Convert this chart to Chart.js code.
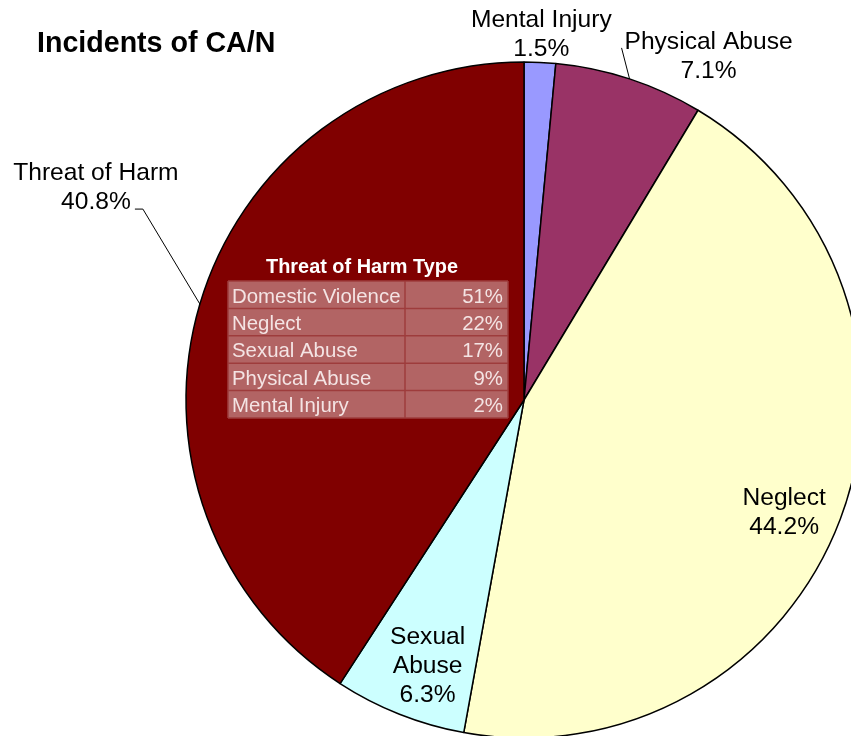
<!DOCTYPE html>
<html>
<head>
<meta charset="utf-8">
<script src="https://cdn.jsdelivr.net/npm/chart.js@4/dist/chart.umd.min.js"></script>
<style>
  html, body { margin: 0; padding: 0; background: #fff; overflow: hidden; }
  #wrap { position: relative; width: 851px; height: 736px; }
  canvas { display: block; }
</style>
</head>
<body>
<div id="wrap"><canvas id="graf_can" width="851" height="736"></canvas></div>
<script>
// slices, clockwise from 12 o'clock
var categories = ['Mental Injury', 'Physical Abuse', 'Neglect', 'Sexual Abuse', 'Threat of Harm'];
var shares = [1.5, 7.1, 44.2, 6.3, 40.8];
var sliceColors = ['#9999FF', '#993366', '#FFFFCC', '#CCFFFF', '#800000'];

// inset table for the Threat of Harm slice
var harmTypes = ['Domestic Violence', 'Neglect', 'Sexual Abuse', 'Physical Abuse', 'Mental Injury'];
var harmShares = [51, 22, 17, 9, 2];

// where each slice label goes: anchor on radius k*R at mid angle, then shifted
var placement = [
    { k: 1.088, dx: 0, dy: 2, lines: ['Mental Injury'] },
    { k: 1, dx: 79, dy: -22, lines: ['Physical Abuse'], leader: [[-8, -31]] },
    { k: 0.835, dx: -4, dy: 13, lines: ['Neglect'] },
    { k: 0.83, dx: 7, dy: 5, lines: ['Sexual', 'Abuse'] },
    { k: 1, dx: -104, dy: -116, lines: ['Threat of Harm'], leader: [[-57, -95], [-65, -95]] }
];

var FONT = '"Liberation Sans", Arial, sans-serif';

var labelsPlugin = {
    id: 'labelsPlugin',
    afterDatasetsDraw: function (chart) {
        var c = chart.ctx;
        var arcs = chart.getDatasetMeta(0).data;
        var cx = arcs[0].x, cy = arcs[0].y, R = arcs[0].outerRadius;

        c.save();
        // title
        c.fillStyle = '#000';
        c.font = 'bold 28.6px ' + FONT;
        c.textAlign = 'left';
        c.textBaseline = 'alphabetic';
        c.fillText('Incidents of CA/N', 37, 52);

        // slice labels
        c.font = '24.6px ' + FONT;
        c.textAlign = 'center';
        c.textBaseline = 'middle';
        c.strokeStyle = '#000';
        c.lineWidth = 1;
        arcs.forEach(function (arc, i) {
            var p = placement[i];
            var mid = (arc.startAngle + arc.endAngle) / 2;
            var ax = cx + Math.cos(mid) * R * p.k;
            var ay = cy + Math.sin(mid) * R * p.k;
            if (p.leader) {
                c.beginPath();
                c.moveTo(ax, ay);
                p.leader.forEach(function (pt) { c.lineTo(ax + pt[0], ay + pt[1]); });
                c.stroke();
            }
            var lines = p.lines.concat([shares[i].toFixed(1) + '%']);
            var lh = 29;
            var top = ay + p.dy - (lines.length - 1) * lh / 2;
            lines.forEach(function (t, j) {
                c.fillText(t, ax + p.dx, top + j * lh);
            });
        });

        // inset table
        var tx = cx - 296, ty = cy - 119;
        var w1 = 177, w2 = 103, rh = 27.4;
        c.font = 'bold 19.9px ' + FONT;
        c.fillStyle = '#FFFFFF';
        c.textAlign = 'center';
        c.textBaseline = 'alphabetic';
        c.fillText('Threat of Harm Type', tx + 134, ty - 8);

        c.fillStyle = '#B26464';
        c.fillRect(tx, ty, w1 + w2, rh * harmTypes.length);
        c.strokeStyle = '#9E3C3C';
        c.lineWidth = 1.5;
        for (var r = 0; r <= harmTypes.length; r++) {
            c.beginPath();
            c.moveTo(tx, ty + r * rh);
            c.lineTo(tx + w1 + w2, ty + r * rh);
            c.stroke();
        }
        [0, w1, w1 + w2].forEach(function (x) {
            c.beginPath();
            c.moveTo(tx + x, ty);
            c.lineTo(tx + x, ty + rh * harmTypes.length);
            c.stroke();
        });
        c.font = '20.4px ' + FONT;
        c.fillStyle = '#F4E4E4';
        harmTypes.forEach(function (t, i) {
            var by = ty + i * rh + 21.5;
            c.textAlign = 'left';
            c.fillText(t, tx + 4, by);
            c.textAlign = 'right';
            c.fillText(harmShares[i] + '%', tx + w1 + w2 - 5, by);
        });
        c.restore();
    }
};

var ctx = document.getElementById('graf_can').getContext('2d');
var chart = new Chart(ctx, {
    type: 'pie',
    data: {
        labels: categories,
        datasets: [{
            data: shares,
            backgroundColor: sliceColors,
            borderColor: '#000000',
            borderWidth: 1.5,
            clip: false
        }]
    },
    options: {
        responsive: false,
        animation: false,
        events: [],
        radius: 338,
        layout: { padding: { left: 197, top: 64, right: 0, bottom: 0 } },
        plugins: {
            legend: { display: false },
            tooltip: { enabled: false }
        }
    },
    plugins: [labelsPlugin]
});
</script>
</body>
</html>
